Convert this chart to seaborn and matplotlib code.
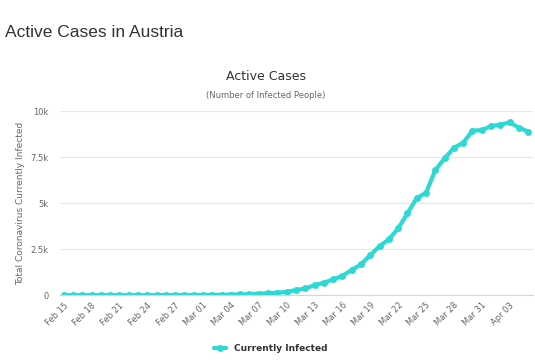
import pandas as pd
import seaborn as sns
import matplotlib.pyplot as plt

# active cases, daily from Feb 15 to Apr 05
start_date = '2020-02-15'
active_cases = [0, 0, 0, 0, 0, 0, 0, 0, 0, 0,
                2, 2, 3, 5, 9, 10, 14, 18, 25, 40,
                50, 80, 100, 130, 180, 270, 360, 540, 670, 850,
                1050, 1360, 1670, 2170, 2660, 3030, 3620, 4440, 5270, 5560,
                6790, 7430, 8000, 8280, 8930, 8970, 9180, 9270, 9380, 9100,
                8880]
y_ticks = [0, 2500, 5000, 7500, 10000]
y_tick_labels = ['0', '2.5k', '5k', '7.5k', '10k']

dates = pd.date_range(start_date, periods=len(active_cases), freq='D')
df = pd.DataFrame({'date': dates, 'active': active_cases})

sns.set_style('white')
plt.rcParams['font.family'] = ['DejaVu Sans']

teal = '#2dd9d4'
fig = plt.figure(figsize=(5.35, 3.63), dpi=100)
ax = fig.add_axes([0.112, 0.187, 0.884, 0.507])

sns.lineplot(data=df, x='date', y='active', ax=ax, color=teal, linewidth=3,
             marker='o', markersize=5, markeredgewidth=0, label='Currently Infected')

ax.set_ylim(0, 10000)
ax.set_xlim(dates[0] - pd.Timedelta(days=0.4), dates[-1] + pd.Timedelta(days=0.5))
ax.set_yticks(y_ticks)
ax.set_yticklabels(y_tick_labels)
ax.yaxis.grid(True, color='#e6e6e6', linewidth=0.8)
ax.set_axisbelow(True)
for s in ['top', 'right', 'left']:
    ax.spines[s].set_visible(False)
ax.spines['bottom'].set_color('#ccd6eb')
ax.spines['bottom'].set_linewidth(0.8)

tick_dates = dates[::3]
ax.set_xticks(tick_dates)
ax.set_xticklabels([d.strftime('%b %d') for d in tick_dates], rotation=45,
                   ha='right', rotation_mode='anchor', fontsize=6, color='#666666')
ax.tick_params(axis='y', labelsize=6, colors='#666666', length=0, pad=8)
ax.tick_params(axis='x', length=0, pad=4)

ax.set_xlabel('')
ax.set_ylabel('Total Coronavirus Currently Infected', fontsize=6.5, color='#666666', labelpad=4)

fig.text(0.009, 0.91, 'Active Cases in Austria', fontsize=12.5, color='#333333',
         family='Liberation Sans', va='center')
fig.text(0.497, 0.788, 'Active Cases', fontsize=9, color='#333333', ha='center', va='center')
fig.text(0.497, 0.736, '(Number of Infected People)', fontsize=6, color='#666666',
         ha='center', va='center')

leg = ax.legend(loc='center', bbox_to_anchor=(0.445, -0.29), frameon=False,
                fontsize=6.5, handlelength=1.4, markerscale=1.0)
for t in leg.get_texts():
    t.set_fontweight('bold')
    t.set_color('#333333')

fig.savefig('out.png', dpi=100)
